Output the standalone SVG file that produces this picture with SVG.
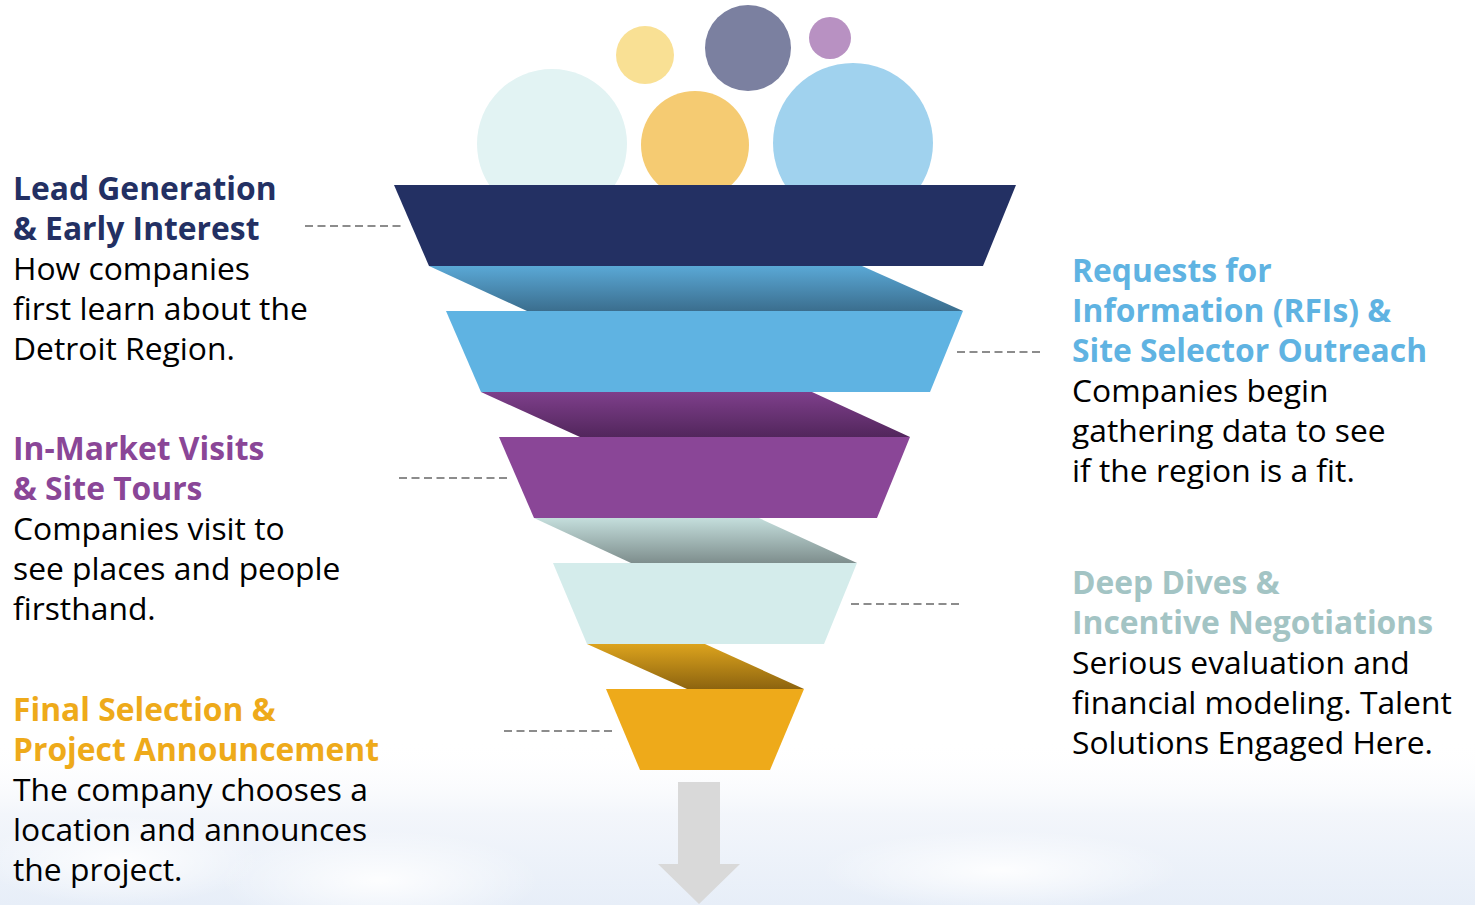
<svg xmlns="http://www.w3.org/2000/svg" width="1475" height="905" viewBox="0 0 1475 905">
  <defs>
    <style>
      .head { font-family: "Open Sans", "Noto Sans", "Liberation Sans", sans-serif; font-weight: 700; font-size: 31.8px; }
      .body { font-family: "Open Sans", "Noto Sans", "Liberation Sans", sans-serif; font-weight: 400; font-size: 31.8px; fill: #000; }
      .lead { stroke: #8c8c8c; stroke-width: 2; stroke-dasharray: 8 4.5; fill: none; }
    </style>
    <!-- sky haze behind the lower part -->
    <linearGradient id="haze" x1="0" y1="0" x2="0" y2="1">
      <stop offset="0" stop-color="#ffffff" stop-opacity="0"/>
      <stop offset="0.45" stop-color="#f3f6fb"/>
      <stop offset="1" stop-color="#e7eef8"/>
    </linearGradient>
    <radialGradient id="cloud" cx="0.5" cy="0.5" r="0.5">
      <stop offset="0" stop-color="#ffffff" stop-opacity="0.9"/>
      <stop offset="1" stop-color="#ffffff" stop-opacity="0"/>
    </radialGradient>
    <!-- folded ribbons between the funnel bands -->
    <linearGradient id="fold1" x1="0" y1="0" x2="0" y2="1">
      <stop offset="0" stop-color="#5aa8d6"/>
      <stop offset="1" stop-color="#3b6e8e"/>
    </linearGradient>
    <linearGradient id="fold2" x1="0" y1="0" x2="0" y2="1">
      <stop offset="0" stop-color="#7e3f8b"/>
      <stop offset="1" stop-color="#52265c"/>
    </linearGradient>
    <linearGradient id="fold3" x1="0" y1="0" x2="0" y2="1">
      <stop offset="0" stop-color="#c4dedc"/>
      <stop offset="1" stop-color="#7e8e8d"/>
    </linearGradient>
    <linearGradient id="fold4" x1="0" y1="0" x2="0" y2="1">
      <stop offset="0" stop-color="#dca31d"/>
      <stop offset="1" stop-color="#8d640f"/>
    </linearGradient>
  </defs>

  <rect x="0" y="0" width="1475" height="905" fill="#ffffff"/>
  <rect x="0" y="740" width="1475" height="165" fill="url(#haze)"/>
  <ellipse cx="380" cy="880" rx="160" ry="50" fill="url(#cloud)"/>
  <ellipse cx="120" cy="860" rx="140" ry="45" fill="url(#cloud)"/>
  <ellipse cx="1000" cy="870" rx="180" ry="40" fill="url(#cloud)"/>

  <!-- bubbles pouring into the funnel -->
  <g id="bubbles">
    <circle cx="552" cy="144" r="75" fill="#e2f3f3"/>
    <circle cx="645" cy="55" r="29" fill="#f9e094"/>
    <circle cx="695" cy="145" r="54" fill="#f5cb72"/>
    <circle cx="748" cy="48" r="43" fill="#7b80a0"/>
    <circle cx="830" cy="38" r="21" fill="#b891c2"/>
    <circle cx="853" cy="143" r="80" fill="#a0d2ee"/>
  </g>

  <!-- funnel stages -->
  <g id="stage-lead">
    <polygon points="394,185 1016,185 983,266 429,266" fill="#233063"/>
  </g>
  <polygon points="429,266 862,266 963,311 527,311" fill="url(#fold1)"/>
  <g id="stage-rfi">
    <polygon points="446,311 963,311 930,392 481,392" fill="#5fb3e2"/>
  </g>
  <polygon points="481,392 812,392 910,437 580,437" fill="url(#fold2)"/>
  <g id="stage-visits">
    <polygon points="499,437 910,437 877,518 534,518" fill="#8a4697"/>
  </g>
  <polygon points="534,518 759,518 857,563 631,563" fill="url(#fold3)"/>
  <g id="stage-deep">
    <polygon points="553,563 857,563 824,644 587,644" fill="#d4eceb"/>
  </g>
  <polygon points="587,644 705,644 804,689 687,689" fill="url(#fold4)"/>
  <g id="stage-final">
    <polygon points="606,689 804,689 770,770 640,770" fill="#eeaa1a"/>
  </g>

  <!-- outcome arrow -->
  <g id="outcome-arrow">
    <polygon points="678,782 720,782 720,864 740,864 699,904 658,864 678,864" fill="#d9d9d9"/>
  </g>

  <!-- dashed leaders from labels to stages -->
  <g id="connectors">
    <line class="lead" x1="305" y1="226" x2="401" y2="226"/>
    <line class="lead" x1="957" y1="352" x2="1043" y2="352"/>
    <line class="lead" x1="399" y1="478" x2="510" y2="478"/>
    <line class="lead" x1="851" y1="604" x2="962" y2="604"/>
    <line class="lead" x1="504" y1="731" x2="615" y2="731"/>
  </g>

  <!-- stage labels -->
  <g id="label-lead">
    <text class="head" x="13" y="200" fill="#233063">Lead Generation</text>
    <text class="head" x="13" y="240" fill="#233063">&amp; Early Interest</text>
    <text class="body" x="13" y="280">How companies</text>
    <text class="body" x="13" y="320">first learn about the</text>
    <text class="body" x="13" y="360">Detroit Region.</text>
  </g>
  <g id="label-visits">
    <text class="head" x="13" y="460" fill="#8a4697">In-Market Visits</text>
    <text class="head" x="13" y="500" fill="#8a4697">&amp; Site Tours</text>
    <text class="body" x="13" y="540">Companies visit to</text>
    <text class="body" x="13" y="580">see places and people</text>
    <text class="body" x="13" y="620">firsthand.</text>
  </g>
  <g id="label-final">
    <text class="head" x="13" y="721" fill="#eeaa1a">Final Selection &amp;</text>
    <text class="head" x="13" y="761" fill="#eeaa1a">Project Announcement</text>
    <text class="body" x="13" y="801">The company chooses a</text>
    <text class="body" x="13" y="841">location and announces</text>
    <text class="body" x="13" y="881">the project.</text>
  </g>
  <g id="label-rfi">
    <text class="head" x="1072" y="282" fill="#5fb3e2">Requests for</text>
    <text class="head" x="1072" y="322" fill="#5fb3e2">Information (RFIs) &amp;</text>
    <text class="head" x="1072" y="362" fill="#5fb3e2">Site Selector Outreach</text>
    <text class="body" x="1072" y="402">Companies begin</text>
    <text class="body" x="1072" y="442">gathering data to see</text>
    <text class="body" x="1072" y="482">if the region is a fit.</text>
  </g>
  <g id="label-deep">
    <text class="head" x="1072" y="594" fill="#a3c4c4">Deep Dives &amp;</text>
    <text class="head" x="1072" y="634" fill="#a3c4c4">Incentive Negotiations</text>
    <text class="body" x="1072" y="674">Serious evaluation and</text>
    <text class="body" x="1072" y="714">financial modeling. Talent</text>
    <text class="body" x="1072" y="754">Solutions Engaged Here.</text>
  </g>
</svg>
